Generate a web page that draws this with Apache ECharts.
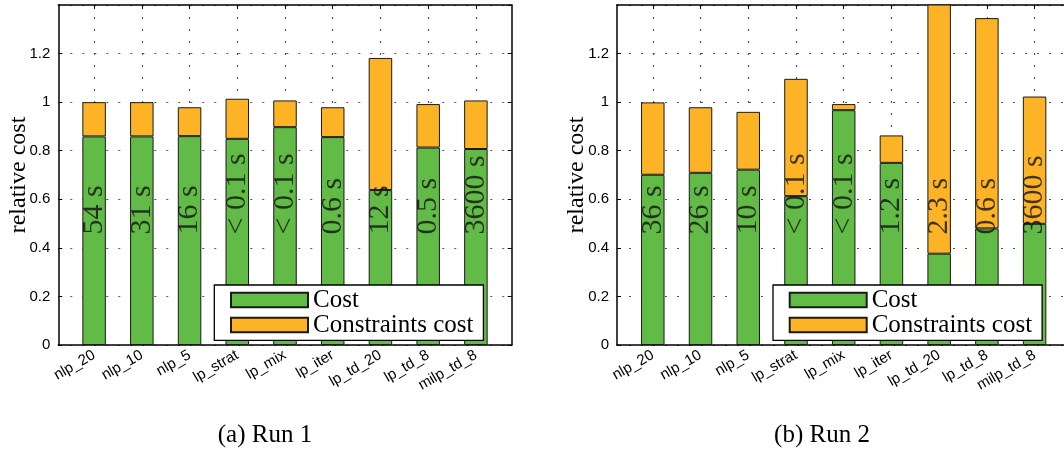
<!DOCTYPE html>
<html>
<head>
<meta charset="utf-8">
<script src="https://cdn.jsdelivr.net/npm/echarts@6/dist/echarts.min.js"></script>
<style>html,body{margin:0;padding:0;background:#fff}#c{width:1064px;height:453px}</style>
</head>
<body>
<div id="c"></div>
<script>
// ---- data ----
const categories = ['nlp_20', 'nlp_10', 'nlp_5', 'lp_strat', 'lp_mix', 'lp_iter', 'lp_td_20', 'lp_td_8', 'milp_td_8'];
const costRun1 = [0.859, 0.859, 0.860, 0.849, 0.897, 0.856, 0.638, 0.813, 0.807];
const constraintsRun1 = [0.141, 0.141, 0.119, 0.165, 0.110, 0.123, 0.544, 0.179, 0.200];
const timeRun1 = ['54 s', '31 s', '16 s', '< 0.1 s', '< 0.1 s', '0.6 s', '12 s', '0.5 s', '3600 s'];
const costRun2 = [0.701, 0.709, 0.722, 0.613, 0.967, 0.750, 0.376, 0.480, 0.499];
const constraintsRun2 = [0.298, 0.270, 0.238, 0.483, 0.025, 0.113, 1.250, 0.866, 0.524];
const timeRun2 = ['36 s', '26 s', '10 s', '< 0.1 s', '< 0.1 s', '1.2 s', '2.3 s', '0.6 s', '3600 s'];
const seriesNames = ['Cost', 'Constraints cost'];
const captions = ['(a) Run 1', '(b) Run 2'];
const yAxisTitle = 'relative cost';
const yMin = 0, yMax = 1.4, yStep = 0.2;

// ---- layout / style ----
const GREEN = '#62bb46', ORANGE = '#fcb426', EDGE = '#1a1a1a';
const frameTop = 5, frameHeight = 340, frameWidth = 453.4;
const step = frameWidth / 9.5;
const timeLabelAt = 0.455;
const panels = [
  { frameLeft: 58.3, legendLeft: 214.3, captionX: 265, cost: costRun1, cons: constraintsRun1, times: timeRun1, caption: captions[0] },
  { frameLeft: 617, legendLeft: 773, captionX: 822, cost: costRun2, cons: constraintsRun2, times: timeRun2, caption: captions[1] }
];
const dotStyle = () => ({ type: [2, 10], dashOffset: 0, color: '#555', width: 1.2 });
const sans = 'Liberation Sans';
const serif = 'Liberation Serif';

const option = { animation: false, backgroundColor: '#fff', grid: [], xAxis: [], yAxis: [], series: [], legend: [], graphic: [] };

panels.forEach((p, i) => {
  const gA = option.grid.length;
  option.grid.push({ left: p.frameLeft, top: frameTop, width: frameWidth, height: frameHeight, outerBoundsMode: 'none' });
  const gB = option.grid.length;
  option.grid.push({ left: p.frameLeft + step * 0.25, top: frameTop, width: step * 9, height: frameHeight, outerBoundsMode: 'none' });
  const gC = option.grid.length;
  option.grid.push({ left: p.frameLeft + step * 0.75, top: frameTop, width: step * 8, height: frameHeight, outerBoundsMode: 'none' });

  const frameLine = () => ({ show: true, onZero: false, lineStyle: { color: '#000', width: 1.5 } });
  const tickIn = () => ({ show: true, inside: true, length: 4, interval: 0, lineStyle: { color: '#000', width: 1 } });
  // frame grid: box, y labels, y ticks
  option.xAxis.push({ gridIndex: gA, type: 'value', min: 0, max: 1, position: 'bottom', axisLine: frameLine(), axisTick: { show: false }, axisLabel: { show: false }, splitLine: { show: false } });
  option.xAxis.push({ gridIndex: gA, type: 'value', min: 0, max: 1, position: 'top', axisLine: frameLine(), axisTick: { show: false }, axisLabel: { show: false }, splitLine: { show: false } });
  option.yAxis.push({
    gridIndex: gA, type: 'value', min: yMin, max: yMax, interval: yStep, position: 'left',
    axisLine: frameLine(), axisTick: tickIn(),
    axisLabel: { show: true, color: '#000', fontFamily: sans, fontSize: 15, margin: 8, showMaxLabel: false },
    splitLine: { show: false },
    name: yAxisTitle, nameLocation: 'middle', nameGap: 28, nameMoveOverlap: false,
    nameTextStyle: { fontFamily: serif, fontSize: 24, color: '#000' }
  });
  option.yAxis.push({
    gridIndex: gA, type: 'value', min: yMin, max: yMax, interval: yStep, position: 'right',
    axisLine: frameLine(), axisTick: tickIn(),
    axisLabel: { show: false }, splitLine: { show: false }
  });
  // horizontal dotted grid lines (dedicated axis)
  option.yAxis.push({
    gridIndex: gA, type: 'value', min: yMin, max: yMax, interval: yStep, position: 'left',
    axisLine: { show: false, onZero: false }, axisTick: { show: false }, axisLabel: { show: false },
    splitLine: { show: true, lineStyle: dotStyle() }
  });
  // bar grid
  const xB = option.xAxis.length;
  option.xAxis.push({ gridIndex: gB, type: 'category', data: categories, boundaryGap: true, show: false });
  const yB = option.yAxis.length;
  option.yAxis.push({ gridIndex: gB, type: 'value', min: yMin, max: yMax, interval: yStep, show: false });
  // category-centre grid: x labels, ticks, vertical dotted lines
  option.xAxis.push({
    gridIndex: gC, type: 'category', data: categories, boundaryGap: false, position: 'bottom',
    axisLine: { show: false, onZero: false },
    axisTick: tickIn(),
    axisLabel: { show: true, interval: 0, rotate: 30, margin: 9, color: '#000', fontFamily: sans, fontSize: 15, hideOverlap: false },
    splitLine: { show: true, interval: 0, lineStyle: dotStyle() }
  });
  option.xAxis.push({
    gridIndex: gC, type: 'category', data: categories, boundaryGap: false, position: 'top',
    axisLine: { show: false, onZero: false },
    axisTick: tickIn(),
    axisLabel: { show: false }, splitLine: { show: false }
  });
  option.yAxis.push({ gridIndex: gC, type: 'value', min: yMin, max: yMax, interval: yStep, show: false });

  const barStyle = (c) => ({ color: c, borderColor: EDGE, borderWidth: 1 });
  option.series.push({
    type: 'bar', name: seriesNames[0], xAxisIndex: xB, yAxisIndex: yB, stack: 'run' + i,
    data: p.cost, barWidth: 23.5, clip: true, itemStyle: barStyle(GREEN), z: 3
  });
  option.series.push({
    type: 'bar', name: seriesNames[1], xAxisIndex: xB, yAxisIndex: yB, stack: 'run' + i,
    data: p.cons, barWidth: 23.5, clip: true, itemStyle: barStyle(ORANGE), z: 2
  });
  option.series.push({
    type: 'scatter', name: 'time' + i, xAxisIndex: xB, yAxisIndex: yB, silent: true, z: 6,
    symbolSize: 0,
    data: categories.map((c, k) => [k, timeLabelAt]),
    label: {
      show: true, position: 'inside', rotate: 90, align: 'left', verticalAlign: 'middle',
      formatter: (q) => p.times[q.dataIndex],
      fontFamily: serif, fontSize: 30, color: '#111'
    }
  });

  option.legend.push({
    left: p.legendLeft, top: 285, orient: 'vertical', data: seriesNames,
    icon: 'rect', itemWidth: 77, itemHeight: 14.7, itemGap: 0,
    padding: [2.5, 10, 2.8, 15.7],
    backgroundColor: '#fff', borderColor: '#000', borderWidth: 1.3, borderRadius: 0,
    selectedMode: false,
    textStyle: { fontFamily: serif, fontSize: 25, color: '#000', lineHeight: 21 }
  });

  option.graphic.push({
    type: 'text', x: p.captionX, y: 435,
    style: { text: p.caption, fontFamily: serif, fontSize: 25, fill: '#000', align: 'center', verticalAlign: 'middle' }
  });
});

const chart = echarts.init(document.getElementById('c'), null, { renderer: 'canvas' });
chart.setOption(option);
</script>
</body>
</html>
